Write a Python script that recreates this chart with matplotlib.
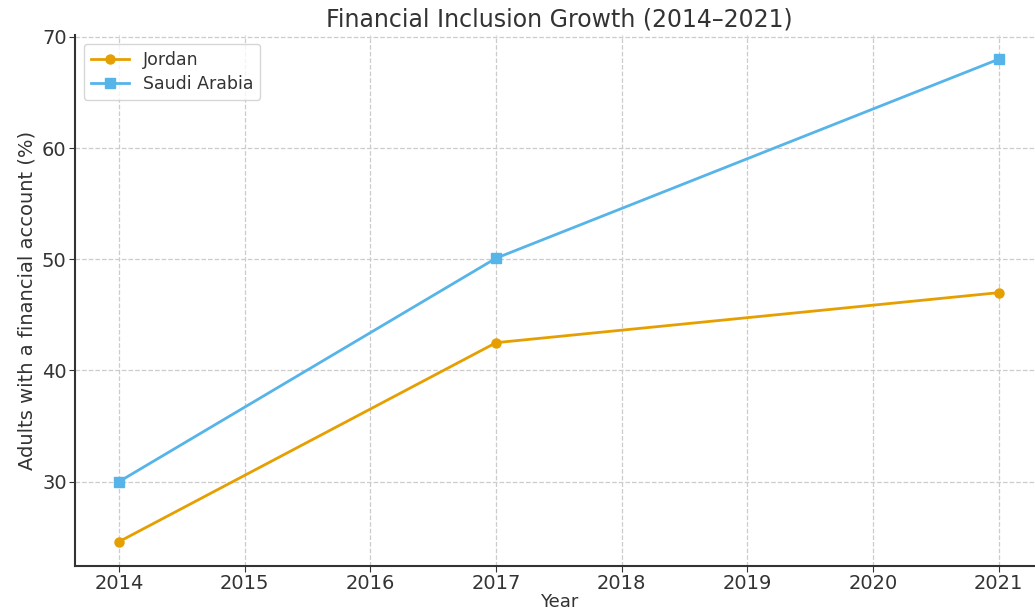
import matplotlib
matplotlib.use("Agg")
import matplotlib.pyplot as plt

years = [2014, 2017, 2021]
jordan = [24.6, 42.5, 47.0]
saudi = [30.0, 50.1, 68.0]
xticks = [2014, 2015, 2016, 2017, 2018, 2019, 2020, 2021]

plt.rcParams['font.family'] = ['DejaVu Sans']
text_col = '#333333'

fig = plt.figure(figsize=(10.35, 6.15), dpi=100)
ax = fig.add_axes([0.0725, 0.080, 0.935, 0.863])

ax.plot(years, jordan, '-o', color='#E69F00', lw=2, ms=6.5, label='Jordan')
ax.plot(years, saudi, '-s', color='#56B4E9', lw=2, ms=6.5, label='Saudi Arabia')

ax.set_xticks(xticks)
ax.grid(True, linestyle='--', color='#cccccc', linewidth=0.9)
ax.set_axisbelow(True)
for s in ['top', 'right']:
    ax.spines[s].set_visible(False)
for s in ['left', 'bottom']:
    ax.spines[s].set_color('#333333')
    ax.spines[s].set_linewidth(1.5)

ax.tick_params(labelsize=14, colors=text_col, length=4, pad=2)
ax.set_title('Financial Inclusion Growth (2014\u20132021)', fontsize=17, color=text_col, pad=6)
ax.set_xlabel('Year', fontsize=13, color=text_col, labelpad=0)
ax.set_ylabel('Adults with a financial account (%)', fontsize=14, color=text_col)

leg = ax.legend(loc='upper left', fontsize=12.5, frameon=True, labelcolor=text_col,
                labelspacing=0.35, handlelength=2.2)
leg.get_frame().set_edgecolor('#cccccc')

fig.savefig('out.png', dpi=100)
